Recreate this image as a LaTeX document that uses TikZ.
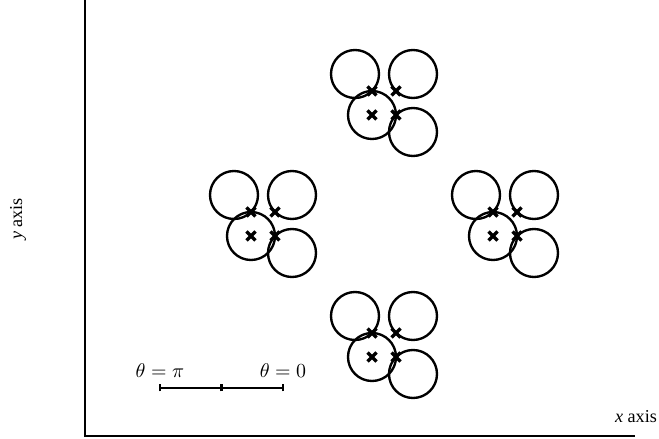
\documentclass[tikz,border=0pt]{standalone}
\usepackage{amsmath}
\usepackage{fontspec}
\setmainfont{Liberation Serif}
\usetikzlibrary{positioning}

\begin{document}
\begin{tikzpicture}[
        x=0.55pt, y=0.55pt,
        orbit/.style={line width=1.3pt},
        xmark/.style={line width=1.8pt},
        axisline/.style={line width=0.7pt},
        bar/.style={line width=1.6pt},
        every node/.style={inner sep=1pt}
    ]
    \useasboundingbox (0,0) rectangle (659,439);

    % axes
    \coordinate (origin) at (85,3);
    \coordinate (ytop) at (85,439);
    \coordinate (xend) at (635,3);
    \draw[axisline] (ytop) -- (origin) -- (xend);
    \node (xlabel) at (636,22) {\textit{x} axis};
    \node[rotate=90] (ylabel) at (18,220) {\textit{y} axis};

    % four clusters of loops
    \foreach \cx/\cy/\nm in {372/324/top, 251/203/left, 493/203/right, 372/82/bottom} {
        \coordinate (\nm-c) at (\cx,\cy);
        \coordinate (\nm-a) at (\cx,\cy+24);
        \coordinate (\nm-b) at (\cx+24,\cy+24);
        \coordinate (\nm-d) at (\cx+24,\cy);
        \draw[orbit] (\nm-c) circle[radius=24];
        \draw[orbit] (\nm-a) ++(-17,17) circle[radius=24];
        \draw[orbit] (\nm-b) ++(17,17) circle[radius=24];
        \draw[orbit] (\nm-d) ++(17,-17) circle[radius=24];
        \foreach \p in {c,a,b,d}
            \draw[xmark] (\nm-\p) ++(-4.5,-4.5) -- ++(9,9) ++(-9,0) -- ++(9,-9);
    }

    % angle scale
    \coordinate (piend) at (160,51);
    \coordinate (midtick) at (221.5,51);
    \coordinate (zeroend) at (283,51);
    \draw[bar] (piend) -- (zeroend);
    \foreach \t in {piend,midtick,zeroend}
        \draw[bar] (\t) ++(0,-3.5) -- ++(0,7);
    \node[above=4.5pt of piend, font=\fontsize{11}{13}\selectfont] (pilabel) {$\theta=\pi$};
    \node[above=4.5pt of zeroend, font=\fontsize{11}{13}\selectfont] (zerolabel) {$\theta=0$};
\end{tikzpicture}
\end{document}
